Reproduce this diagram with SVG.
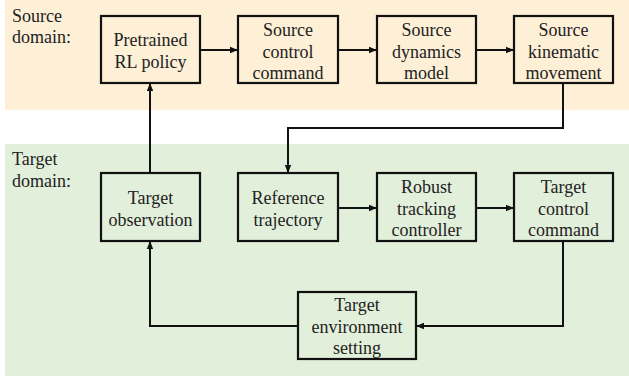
<svg xmlns="http://www.w3.org/2000/svg" width="629" height="381" viewBox="0 0 629 381">
<defs>
<style>
.band-s{fill:#fdf0d6;}
.band-t{fill:#e2efda;}
.box{fill:none;stroke:#111;stroke-width:2.2;}
.t{text-anchor:middle;}
.c{fill:none;stroke:#111;stroke-width:2;}
</style>
<marker id="ah" viewBox="0 0 10 10" refX="10" refY="5" markerWidth="4" markerHeight="4" orient="auto" markerUnits="strokeWidth">
<path d="M0,1 L10,5 L0,9 z" fill="#111"/>
</marker>
</defs>
<rect width="629" height="381" fill="#fff"/>
<rect class="band-s" x="5" y="0" width="624" height="110"/>
<rect class="band-t" x="5" y="144" width="624" height="232"/>
<g font-family="Liberation Serif, DejaVu Serif, serif" font-size="18" fill="#222">
<text x="12" y="22">Source</text>
<text x="12" y="43">domain:</text>
<text x="12" y="165">Target</text>
<text x="12" y="187">domain:</text>
</g>
<g id="connectors">
<path class="c" d="M200,50 L238,50" marker-end="url(#ah)"/>
<path class="c" d="M338,50 L377,50" marker-end="url(#ah)"/>
<path class="c" d="M476,50 L514,50" marker-end="url(#ah)"/>
<path class="c" d="M563,83 L563,128 L288,128 L288,173" marker-end="url(#ah)"/>
<path class="c" d="M150,173 L150,83" marker-end="url(#ah)"/>
<path class="c" d="M338,208 L377,208" marker-end="url(#ah)"/>
<path class="c" d="M476,208 L514,208" marker-end="url(#ah)"/>
<path class="c" d="M563,241 L563,326 L416,326" marker-end="url(#ah)"/>
<path class="c" d="M298,326 L150,326 L150,241" marker-end="url(#ah)"/>
</g>
<g font-family="Liberation Serif, DejaVu Serif, serif" font-size="18" fill="#222">
<g id="pretrained">
<rect class="box" x="101" y="16" width="99" height="67"/>
<text class="t" x="150.5" y="46">Pretrained</text>
<text class="t" x="150.5" y="68">RL policy</text>
</g>
<g id="source-control">
<rect class="box" x="238" y="16" width="100" height="67"/>
<text class="t" x="288" y="36">Source</text>
<text class="t" x="288" y="58">control</text>
<text class="t" x="288" y="79">command</text>
</g>
<g id="source-dynamics">
<rect class="box" x="377" y="16" width="99" height="67"/>
<text class="t" x="426.5" y="36">Source</text>
<text class="t" x="426.5" y="58">dynamics</text>
<text class="t" x="426.5" y="79">model</text>
</g>
<g id="source-kinematic">
<rect class="box" x="514" y="16" width="99" height="67"/>
<text class="t" x="563.5" y="36">Source</text>
<text class="t" x="563.5" y="58">kinematic</text>
<text class="t" x="563.5" y="79">movement</text>
</g>
<g id="target-observation">
<rect class="box" x="101" y="173" width="99" height="68"/>
<text class="t" x="150.5" y="204">Target</text>
<text class="t" x="150.5" y="226">observation</text>
</g>
<g id="reference-trajectory">
<rect class="box" x="238" y="173" width="100" height="68"/>
<text class="t" x="288" y="204">Reference</text>
<text class="t" x="288" y="226">trajectory</text>
</g>
<g id="robust-tracking">
<rect class="box" x="377" y="173" width="99" height="68"/>
<text class="t" x="426.5" y="193">Robust</text>
<text class="t" x="426.5" y="215">tracking</text>
<text class="t" x="426.5" y="236">controller</text>
</g>
<g id="target-control">
<rect class="box" x="514" y="173" width="99" height="68"/>
<text class="t" x="563.5" y="193">Target</text>
<text class="t" x="563.5" y="215">control</text>
<text class="t" x="563.5" y="236">command</text>
</g>
<g id="target-environment">
<rect class="box" x="298" y="292" width="118" height="67"/>
<text class="t" x="357" y="311">Target</text>
<text class="t" x="357" y="333">environment</text>
<text class="t" x="357" y="354">setting</text>
</g>
</g>
</svg>
